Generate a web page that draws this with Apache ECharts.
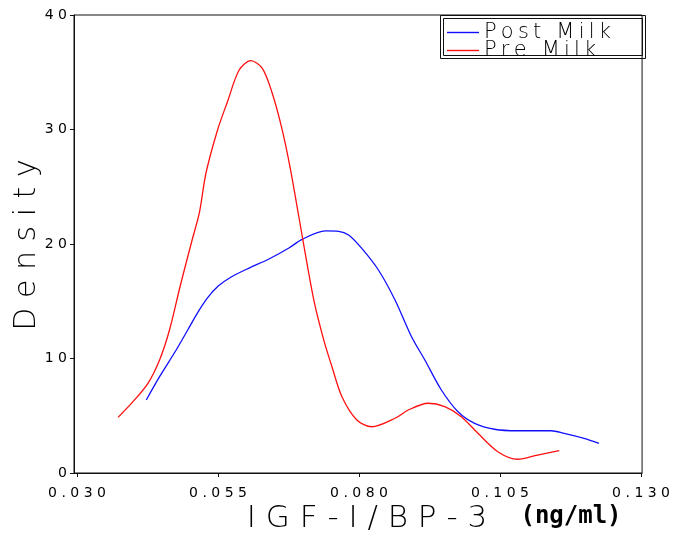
<!DOCTYPE html>
<html>
<head>
<meta charset="utf-8">
<script src="https://cdn.jsdelivr.net/npm/echarts@6/dist/echarts.min.js"></script>
<style>html,body{margin:0;padding:0;background:#fff;}#c{width:673px;height:534px;}</style>
</head>
<body>
<div id="c"></div>
<script>
// ---- data ----
const seriesNames = ['Post Milk', 'Pre Milk'];
const postX = [0.04229,0.04464,0.04758,0.04963,0.05134,0.05310,0.05504,0.05734,0.06051,0.06404,0.06757,0.06991,0.07404,0.07638,0.07815,0.08049,0.08344,0.08638,0.08931,0.09167,0.09460,0.09755,0.10049,0.10402,0.10813,0.11401,0.11637,0.11990,0.12254];
const postY = [6.38,8.41,10.74,12.49,13.97,15.28,16.33,17.12,17.90,18.69,19.65,20.41,21.14,21.11,20.79,19.62,17.73,15.11,11.90,9.87,7.25,5.35,4.34,3.82,3.69,3.69,3.47,3.03,2.59];
const preX = [0.03728,0.03993,0.04258,0.04464,0.04640,0.04834,0.05041,0.05169,0.05287,0.05492,0.05668,0.05875,0.06081,0.06286,0.06462,0.06638,0.06787,0.06933,0.07198,0.07374,0.07520,0.07697,0.07961,0.08226,0.08639,0.08873,0.09226,0.09520,0.09813,0.10108,0.10460,0.10813,0.11166,0.11549];
const preY = [4.86,6.23,7.83,9.87,12.49,16.42,20.35,22.71,26.20,29.96,32.43,35.20,36.01,35.34,33.16,29.96,26.46,22.38,15.11,11.62,9.28,6.66,4.63,4.04,4.78,5.50,6.09,5.79,4.92,3.47,1.86,1.20,1.57,1.95];
const xTicks = [0.030, 0.055, 0.080, 0.105, 0.130];
const yTicks = [0, 10, 20, 30, 40];
const xTitle = 'IGF-I/BP-3';
const xUnit = '(ng/ml)';
const yTitle = 'Density';

function spaced(s, sep) { return String(s).split('').join(sep); }
function zip(xs, ys) { return xs.map((x, i) => [x, ys[i]]); }

const FONT = '"DejaVu Sans"';
const chart = echarts.init(document.getElementById('c'), null, {renderer: 'canvas'});
chart.setOption({
  animation: false,
  backgroundColor: '#fff',
  grid: {left: 74, right: 28, top: 15, bottom: 61, show: true, borderColor: '#111', borderWidth: 1, backgroundColor: 'transparent'},
  xAxis: {
    type: 'value', min: 0.02947, max: 0.13018,
    axisLine: {show: true, lineStyle: {color: '#111', width: 1}},
    axisTick: {show: true, length: 4, lineStyle: {color: '#111'}, customValues: xTicks},
    splitLine: {show: false},
    axisLabel: {customValues: xTicks, margin: 13, color: '#000', fontFamily: FONT, fontSize: 14,
      formatter: v => spaced(Number(v).toFixed(3), ' ')}
  },
  yAxis: {
    type: 'value', min: yTicks[0], max: yTicks[yTicks.length - 1], interval: 10,
    axisLine: {show: true, lineStyle: {color: '#111', width: 1}},
    axisTick: {show: true, length: 4, lineStyle: {color: '#111'}},
    splitLine: {show: false},
    axisLabel: {margin: 7, color: '#000', fontFamily: FONT, fontSize: 14,
      formatter: v => spaced(v, ' ')}
  },
  legend: {
    orient: 'vertical', left: 447, top: 22, itemWidth: 32, itemHeight: 1.4, itemGap: -3, padding: 0,
    icon: 'rect',
    data: seriesNames,
    textStyle: {fontFamily: FONT, fontWeight: 200, fontSize: 21, color: '#000', lineHeight: 17.6},
    formatter: n => spaced(n, '\u2009')
  },
  series: [
    {name: seriesNames[0], type: 'line', data: zip(postX, postY), smooth: 0.3, symbol: 'none',
     lineStyle: {color: '#1010ff', width: 1.3}, itemStyle: {color: '#1010ff'}},
    {name: seriesNames[1], type: 'line', data: zip(preX, preY), smooth: 0.3, symbol: 'none',
     lineStyle: {color: '#ff1010', width: 1.3}, itemStyle: {color: '#ff1010'}}
  ],
  graphic: [
    {type: 'rect', shape: {x: 440.5, y: 15.5, width: 205, height: 43}, style: {fill: 'none', stroke: '#111', lineWidth: 1}, silent: true},
    {type: 'rect', shape: {x: 443.5, y: 18.5, width: 199, height: 37}, style: {fill: 'none', stroke: '#111', lineWidth: 1}, silent: true},
    {type: 'text', x: 27, y: 245, rotation: Math.PI / 2,
     style: {text: spaced(yTitle, ' '), font: '200 30px ' + FONT, fill: '#000', align: 'center', verticalAlign: 'middle'}},
    {type: 'text', x: 367, y: 519,
     style: {text: spaced(xTitle, ' '), font: '200 31px ' + FONT, fill: '#000', align: 'center', verticalAlign: 'middle'}},
    {type: 'text', x: 571, y: 517,
     style: {text: xUnit, font: 'bold 24px "DejaVu Sans Mono"', fill: '#000', align: 'center', verticalAlign: 'middle'}}
  ]
});
</script>
</body>
</html>
